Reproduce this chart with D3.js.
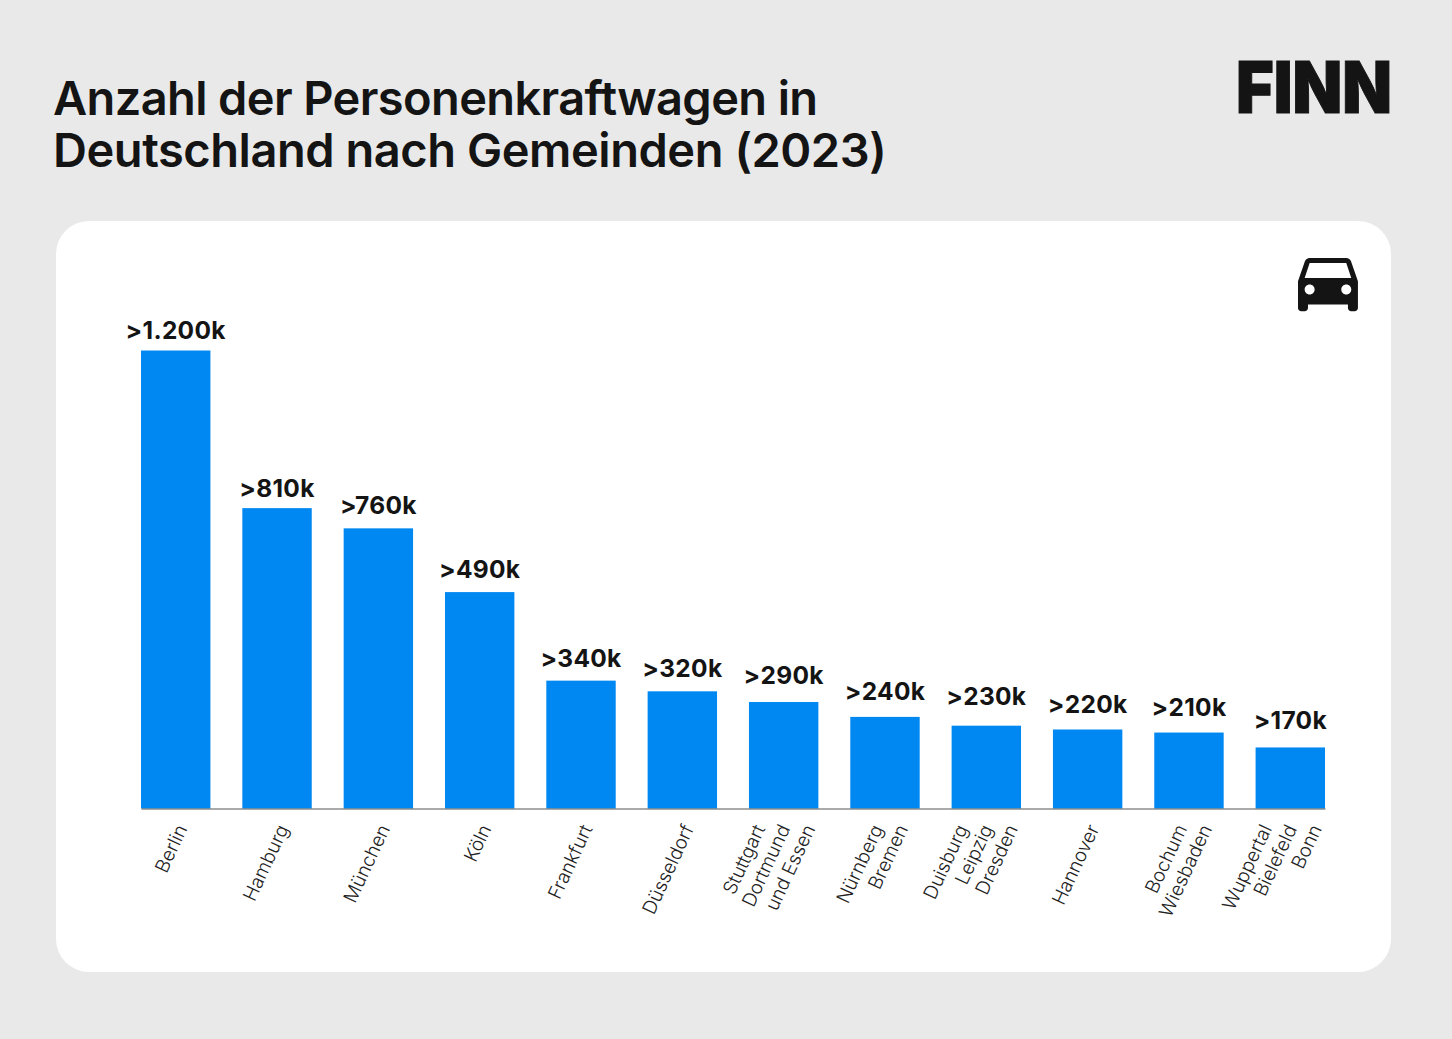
<!DOCTYPE html>
<html><head><meta charset="utf-8">
<script src="https://cdnjs.cloudflare.com/ajax/libs/d3/7.8.5/d3.min.js"></script>
<style>html,body{margin:0;padding:0;background:#e9e9e9;overflow:hidden}svg{display:block}</style>
</head><body><svg id="c" width="1452" height="1039"></svg>
<script>
const titleLines = ["Anzahl der Personenkraftwagen in", "Deutschland nach Gemeinden (2023)"];
const categories = ["Berlin","Hamburg","München","Köln","Frankfurt","Düsseldorf","Stuttgart\nDortmund\nund Essen","Nürnberg\nBremen","Duisburg\nLeipzig\nDresden","Hannover","Bochum\nWiesbaden","Wuppertal\nBielefeld\nBonn"];
const barValues = [1200,787,734,567,335,307,279,240,217,207,199,160];
const barLabels = [">1.200k",">810k",">760k",">490k",">340k",">320k",">290k",">240k",">230k",">220k",">210k",">170k"];
const ink = "#141414", blue = "#0088f2";
const labelLift = [12,11,14,14,14,14,18,17,21,16,17,18];
const titleSpacing = [-0.62,-0.45];
const svg = d3.select("#c");
svg.append("rect").attr("width",1452).attr("height",1039).attr("fill","#e9e9e9");
svg.append("rect").attr("x",56).attr("y",221).attr("width",1335).attr("height",751).attr("rx",33).attr("fill","#fff");
svg.selectAll("text.title").data(titleLines).join("text").attr("class","title")
  .attr("x",53).attr("y",(d,i)=>115+i*52).attr("fill",ink)
  .style("font",'600 47px Inter').style("letter-spacing",(d,i)=>titleSpacing[i]+"px").text(d=>d);
svg.append("text").attr("x",1236).attr("y",113).attr("fill",ink).attr("stroke",ink).attr("stroke-width",1)
  .attr("textLength",156).attr("lengthAdjust","spacingAndGlyphs")
  .style("font",'900 72px Inter').text("FINN");
svg.append("path").attr("transform","translate(1288,241.3) scale(3.33)").attr("fill",ink)
  .attr("d","M18.92 6.01C18.72 5.42 18.16 5 17.5 5h-11c-.66 0-1.21.42-1.42 1.01L3 12v8c0 .55.45 1 1 1h1c.55 0 1-.45 1-1v-1h12v1c0 .55.45 1 1 1h1c.55 0 1-.45 1-1v-8l-2.08-5.99zM6.5 16c-.83 0-1.5-.67-1.5-1.5S5.67 13 6.5 13s1.5.67 1.5 1.5S7.33 16 6.5 16zm11 0c-.83 0-1.5-.67-1.5-1.5s.67-1.5 1.5-1.5 1.5.67 1.5 1.5-.67 1.5-1.5 1.5zM5 11l1.5-4.5h11L19 11H5z");
const x = d3.scaleBand().domain(categories).range([141,1325]).paddingInner(0.315).paddingOuter(0);
const y = d3.scaleLinear().domain([0,1200]).range([808.5,350.5]);
svg.selectAll("rect.bar").data(barValues).join("rect").attr("class","bar")
  .attr("x",(d,i)=>x(categories[i])).attr("y",d=>y(d)).attr("width",x.bandwidth()).attr("height",d=>y(0)-y(d)).attr("fill",blue);
svg.selectAll("text.val").data(barValues).join("text").attr("class","val")
  .attr("x",(d,i)=>x(categories[i])+x.bandwidth()/2).attr("y",(d,i)=>y(d)-labelLift[i]).attr("text-anchor","middle").attr("fill",ink)
  .style("font",'700 24.5px Inter').style("letter-spacing","0.3px").text((d,i)=>barLabels[i]);
const axis = d3.axisBottom(x).tickSize(0).tickFormat("");
const g = svg.append("g").attr("transform","translate(0,808.5)").call(axis);
g.select(".domain").attr("stroke","#555").attr("stroke-width",1);
g.selectAll(".tick").each(function(d){
  const lines = d.split("\n"), n = lines.length, sp = 25;
  d3.select(this).selectAll("text.lab").data(lines).join("text").attr("class","lab")
    .attr("text-anchor","end").attr("fill","#222")
    .attr("transform",(t,i)=>`translate(${12+(i-(n-1)/2)*sp+(n>1?(n==2?-1:-5):0)},20) rotate(-65)`)
    .style("font",'300 19px Inter').text(t=>t);
});
</script></body></html>
